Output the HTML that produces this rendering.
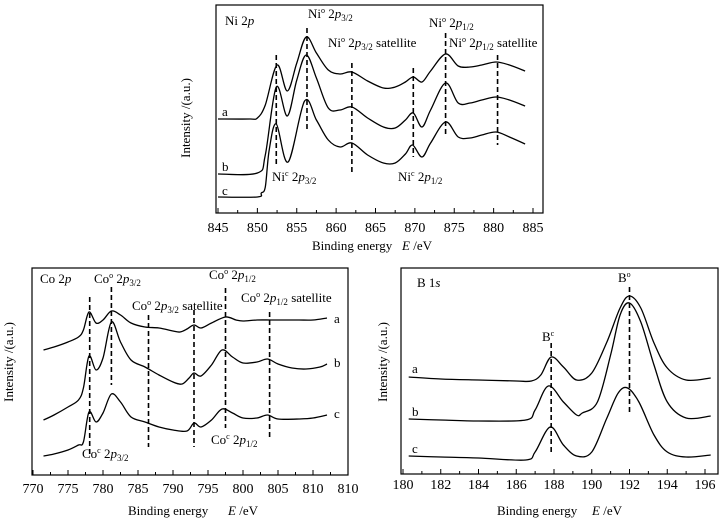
<!DOCTYPE html>
<html><head><meta charset="utf-8"><style>
body{margin:0;background:#fff}
svg{display:block;font-family:"Liberation Serif",serif}
text{fill:#000}
</style></head><body>
<svg id="s" width="726" height="527" viewBox="0 0 726 527">
<g font-family="Liberation Serif, serif" font-size="13">
<text x="225" y="25">Ni 2<tspan font-style="italic">p</tspan></text>
<text x="308" y="18">Ni<tspan font-size="8" dy="-5">o</tspan><tspan dy="5"> 2</tspan><tspan font-style="italic">p</tspan><tspan font-size="9" dy="3">3/2</tspan></text>
<text x="328" y="47">Ni<tspan font-size="8" dy="-5">o</tspan><tspan dy="5"> 2</tspan><tspan font-style="italic">p</tspan><tspan font-size="9" dy="3">3/2</tspan><tspan dy="-3"> satellite</tspan></text>
<text x="429" y="27">Ni<tspan font-size="8" dy="-5">o</tspan><tspan dy="5"> 2</tspan><tspan font-style="italic">p</tspan><tspan font-size="9" dy="3">1/2</tspan></text>
<text x="449" y="47">Ni<tspan font-size="8" dy="-5">o</tspan><tspan dy="5"> 2</tspan><tspan font-style="italic">p</tspan><tspan font-size="9" dy="3">1/2</tspan><tspan dy="-3"> satellite</tspan></text>
<text x="272" y="181">Ni<tspan font-size="8" dy="-5">c</tspan><tspan dy="5"> 2</tspan><tspan font-style="italic">p</tspan><tspan font-size="9" dy="3">3/2</tspan></text>
<text x="398" y="181">Ni<tspan font-size="8" dy="-5">c</tspan><tspan dy="5"> 2</tspan><tspan font-style="italic">p</tspan><tspan font-size="9" dy="3">1/2</tspan></text>
<text x="222" y="116">a</text>
<text x="222" y="171">b</text>
<text x="222" y="195">c</text>
<text x="312" y="250">Binding energy</text>
<text x="402" y="250"><tspan font-style="italic">E</tspan> /eV</text>
<text transform="translate(190,118) rotate(-90)" text-anchor="middle">Intensity /(a.u.)</text>

<text x="40" y="283">Co 2<tspan font-style="italic">p</tspan></text>
<text x="94" y="283">Co<tspan font-size="8" dy="-5">o</tspan><tspan dy="5"> 2</tspan><tspan font-style="italic">p</tspan><tspan font-size="9" dy="3">3/2</tspan></text>
<text x="132" y="310">Co<tspan font-size="8" dy="-5">o</tspan><tspan dy="5"> 2</tspan><tspan font-style="italic">p</tspan><tspan font-size="9" dy="3">3/2</tspan><tspan dy="-3"> satellite</tspan></text>
<text x="209" y="279">Co<tspan font-size="8" dy="-5">o</tspan><tspan dy="5"> 2</tspan><tspan font-style="italic">p</tspan><tspan font-size="9" dy="3">1/2</tspan></text>
<text x="241" y="302">Co<tspan font-size="8" dy="-5">o</tspan><tspan dy="5"> 2</tspan><tspan font-style="italic">p</tspan><tspan font-size="9" dy="3">1/2</tspan><tspan dy="-3"> satellite</tspan></text>
<text x="82" y="458">Co<tspan font-size="8" dy="-5">c</tspan><tspan dy="5"> 2</tspan><tspan font-style="italic">p</tspan><tspan font-size="9" dy="3">3/2</tspan></text>
<text x="211" y="444">Co<tspan font-size="8" dy="-5">c</tspan><tspan dy="5"> 2</tspan><tspan font-style="italic">p</tspan><tspan font-size="9" dy="3">1/2</tspan></text>
<text x="334" y="323">a</text>
<text x="334" y="367">b</text>
<text x="334" y="418">c</text>
<text x="128" y="515">Binding energy</text>
<text x="228" y="515"><tspan font-style="italic">E</tspan> /eV</text>
<text transform="translate(13,362) rotate(-90)" text-anchor="middle">Intensity /(a.u.)</text>

<text x="417" y="287">B 1<tspan font-style="italic">s</tspan></text>
<text x="542" y="341">B<tspan font-size="8" dy="-5">c</tspan></text>
<text x="618" y="282">B<tspan font-size="8" dy="-5">o</tspan></text>
<text x="412" y="373">a</text>
<text x="412" y="416">b</text>
<text x="412" y="453">c</text>
<text x="497" y="515">Binding energy</text>
<text x="592" y="515"><tspan font-style="italic">E</tspan> /eV</text>
<text transform="translate(387,362) rotate(-90)" text-anchor="middle">Intensity /(a.u.)</text>
</g>
</svg>
<script>
// ---- Ni 2p data ----
const niE_a=[845,849,850,851,852.5,853.8,855,856.2,857.5,859,860.5,862,864,866,867.5,868.8,869.8,870.9,872,873.9,875.5,877,878.5,880.3,882,884];
const niI_a=[94,94,95,108,148,122,150,176,160,143,139,141,132,125,126,131,136,131,142,159,147,146,148,151,148,142];
const niE_b=[845,850,851,852.4,853.8,855,856.2,857.5,859,860.5,862,864,866,867.5,868.8,869.8,870.9,872,873.9,875.5,877,878.5,880.3,882,884];
const niI_b=[39,40,58,126,97,133,158,135,105,103,106,95,86,85,93,100,86,103,130,110,110,113,116,113,107];
const niE_c=[845,850,850.5,851,851.5,852.4,853.9,856,857.5,859,860.5,862,864,866,867.5,868.8,869.7,870.9,872,873.9,875.5,877,878.5,880.3,882,884];
const niI_c=[16,16,20,26,63,89,51,112,93,73,66,70,58,50,50,59,68,56,70,91,76,75,78,81,76,69];
const niTicks=[845,850,855,860,865,870,875,880,885];
const niTickLabels=['845','850','855','860','865','870','875','880','885'];
// ---- Co 2p data ----
const coE_a=[771.5,773,775,776.5,777.2,778,779,780,781.2,782.5,784,786,788,790,791,792,793,794,795.5,797.5,799,800,802,804,806,808,810,812];
const coI_a=[125,128,133,138,145,163,152,155,164,160,152,148,147,144,143,146,150,147,152,158,155,154,155,155,155,155,155,157];
const coE_b=[771.5,773,775,776.5,777.2,778,779,780,781.2,782.5,784,786,788,790,791.3,792.3,793,794,795.5,797,798.5,800,802,803.5,805,807,809,811,812];
const coI_b=[55,60,68,75,87,119,105,117,153,133,115,108,100,93,91,97,102,99,110,125,118,112,113,116,111,107,106,108,111];
const coE_c=[771.5,773,775,776.5,777.2,778,779,780,781.2,782.5,784,786,788,790,792,793,794,795.5,797,798.5,800,802,803.5,805,808,810,812];
const coI_c=[19,21,25,30,33,63,53,62,81,73,58,53,48,45,44,52,48,55,66,62,57,57,60,56,56,57,60];
const coTicks=[770,775,780,785,790,795,800,805,810,815];
const coTickLabels=['770','775','780','785','790','795','800','805','810','810'];
// ---- B 1s data ----
const bE_a=[180.3,182,184,186,186.8,187.3,187.85,188.5,189.2,190,190.8,191.5,192,192.6,193.3,194,195,196.3];
const bI_a=[97,95,94,93,93,99,117,107,94,101,132,166,178,166,131,106,94,96];
const bE_b=[180.3,182,184,186.5,187,187.7,188.5,189.2,189.5,190.3,191,191.5,192,192.6,193.3,194,195,196.3];
const bI_b=[55,54,53,54,64,88,72,59,61,72,119,159,171,152,109,72,56,58];
const bE_c=[180.3,182,184,186.5,187,187.8,188.5,189.2,190,190.8,191.4,191.9,192.5,193.3,194,195,196.3];
const bI_c=[18,17,16,14,22,47,29,18,22,56,81,86,72,39,22,17,19];
const bTicks=[180,182,184,186,188,190,192,194,196];
const bTickLabels=['180','182','184','186','188','190','192','194','196'];

const NS='http://www.w3.org/2000/svg';
const svg=document.getElementById('s');
function el(tag,attrs,parent){const e=document.createElementNS(NS,tag);for(const k in attrs)e.setAttribute(k,attrs[k]);(parent||svg).appendChild(e);return e;}
function smooth(pts){let d='M'+pts[0][0].toFixed(1)+','+pts[0][1].toFixed(1);
 for(let i=0;i<pts.length-1;i++){const p0=pts[i-1]||pts[i],p1=pts[i],p2=pts[i+1],p3=pts[i+2]||p2;
 const c1=[p1[0]+(p2[0]-p0[0])/6,p1[1]+(p2[1]-p0[1])/6],c2=[p2[0]-(p3[0]-p1[0])/6,p2[1]-(p3[1]-p1[1])/6];
 d+='C'+c1[0].toFixed(1)+','+c1[1].toFixed(1)+' '+c2[0].toFixed(1)+','+c2[1].toFixed(1)+' '+p2[0].toFixed(1)+','+p2[1].toFixed(1);}
 return d;}
function panel(o){
 const g=el('g',{});
 
 
 const sx=v=>o.x0+(v-o.d0)*(o.x1-o.x0)/(o.d1-o.d0);
 const sy=v=>o.bottom-v;
 const fr=el('rect',{x:o.L,y:o.T,width:o.R-o.L,height:o.bottom-o.T,fill:'none',stroke:'#000','stroke-width':1.2},g);
 
 
 for(let v=o.ticks[0];v<=o.ticks[o.ticks.length-1]+1e-6;v+=o.minor){
   const x=sx(v);if(x<o.L+1||x>o.R-1)continue;
   const major=o.ticks.some(t=>Math.abs(t-v)<1e-6);
   const tk=el('line',{x1:x,x2:x,y1:o.bottom,y2:o.bottom-(major?5:3),stroke:'#000','stroke-width':1},g);
   
   
 }
 o.ticks.forEach((t,i)=>{const tx=el('text',{x:sx(t),y:o.tickY,'text-anchor':'middle','font-size':14},g);tx.textContent=o.labels[i];
   
   });
 o.series.forEach((s,i)=>{const pts=s[0].map((e,j)=>[sx(e),sy(s[1][j])]);
   const p=el('path',{d:smooth(pts),fill:'none',stroke:'#000','stroke-width':1.3},g);
   
   });
 o.dashes.forEach(d=>{const l=el('line',{x1:sx(d[0]),x2:sx(d[0]),y1:d[1],y2:d[2],stroke:'#000','stroke-width':1.6,'stroke-dasharray':'5,3'},g);
   
   });
 return g;
}
panel({name:'ni-2p-panel',L:216,R:543,T:5,bottom:213,x0:218,x1:533,d0:845,d1:885,minor:2.5,ticks:niTicks,labels:niTickLabels,tickY:232,
 series:[[niE_a,niI_a],[niE_b,niI_b],[niE_c,niI_c]],
 dashes:[[852.4,55,167],[856.3,28,130],[862,63,173],[869.8,68,157],[873.9,33,135],[880.5,55,145]]});
panel({name:'co-2p-panel',L:32,R:348,T:268,bottom:475,x0:33,x1:313,d0:770,d1:810,minor:2.5,ticks:coTicks,labels:coTickLabels,tickY:493,
 series:[[coE_a,coI_a],[coE_b,coI_b],[coE_c,coI_c]],
 dashes:[[778.1,297,455],[781.2,287,385],[786.5,315,447],[793,310,447],[797.5,288,428],[803.8,312,440]]});
panel({name:'b-1s-panel',L:401,R:718,T:268,bottom:474,x0:403,x1:705,d0:180,d1:196,minor:1,ticks:bTicks,labels:bTickLabels,tickY:489,
 series:[[bE_a,bI_a],[bE_b,bI_b],[bE_c,bI_c]],
 dashes:[[187.85,343,452],[192,287,415]]});
</script>
</body></html>
